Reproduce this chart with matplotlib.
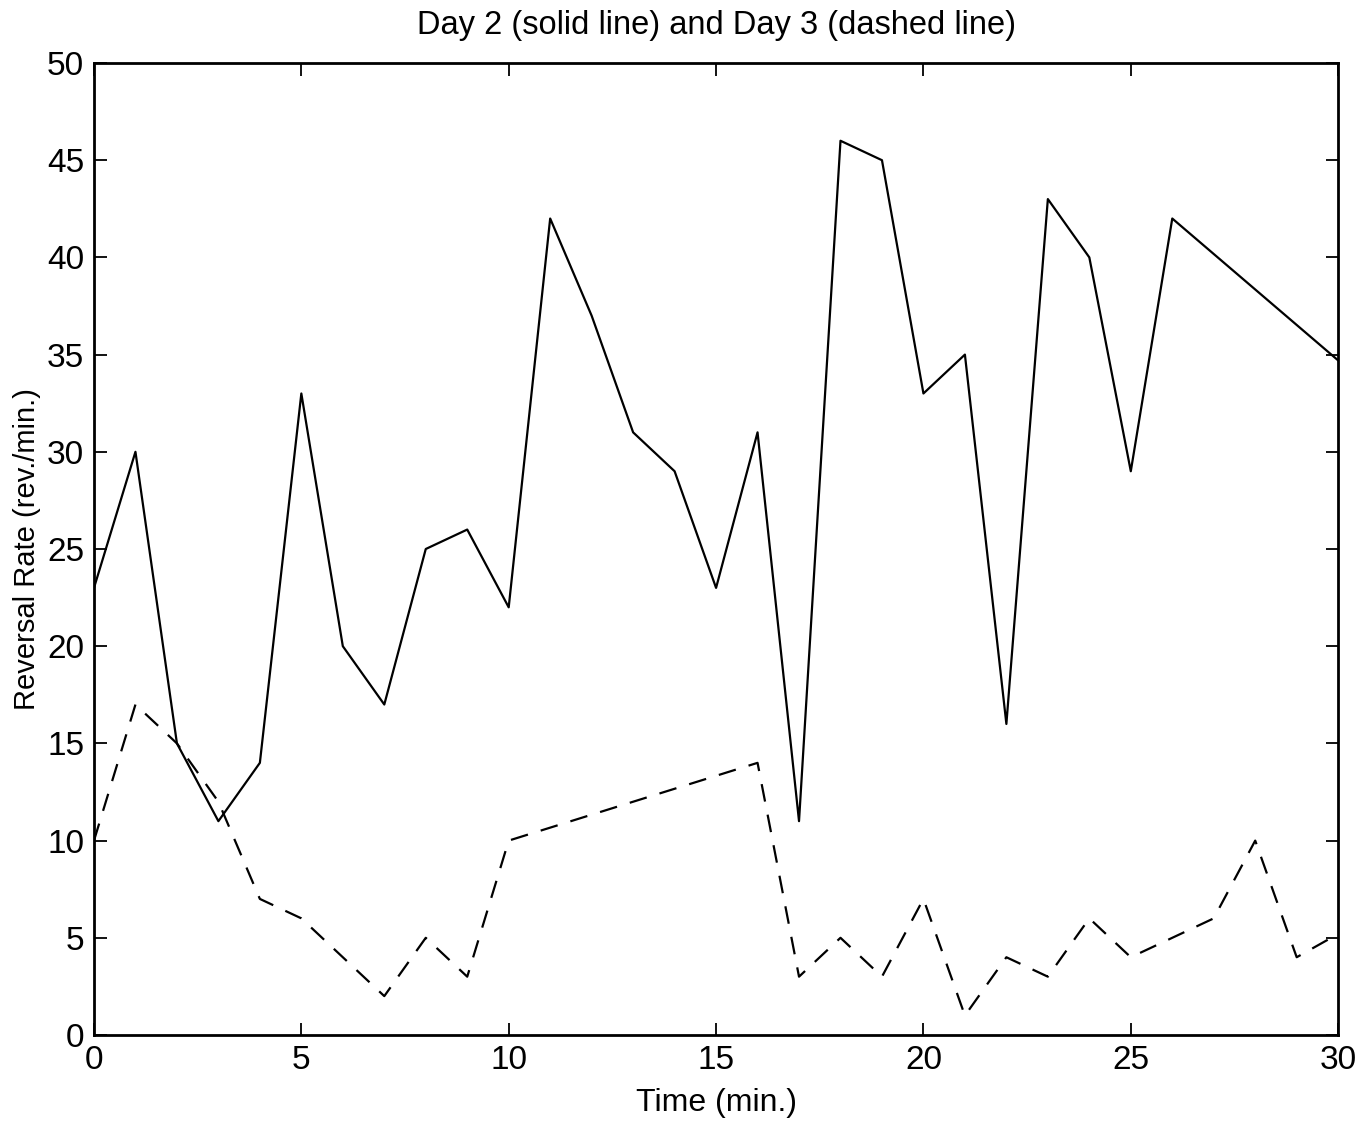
import matplotlib
matplotlib.use("Agg")
import matplotlib.pyplot as plt

# Day 2 (solid)
day2_t = [0, 1, 2, 3, 4, 5, 6, 7, 8, 9, 10, 11, 12, 13, 14, 15, 16, 17, 18, 19,
          20, 21, 22, 23, 24, 25, 26, 30]
day2_rate = [23, 30, 15, 11, 14, 33, 20, 17, 25, 26, 22, 42, 37, 31, 29, 23, 31, 11,
             46, 45, 33, 35, 16, 43, 40, 29, 42, 34.7]

# Day 3 (dashed)
day3_t = [0, 1, 2, 3, 4, 5, 6, 7, 8, 9, 10, 16, 17, 18, 19, 20, 21, 22, 23, 24,
          25, 26, 27, 28, 29, 30]
day3_rate = [10, 17, 15, 12, 7, 6, 4, 2, 5, 3, 10, 14, 3, 5, 3, 7, 1, 4, 3, 6,
             4, 5, 6, 10, 4, 5.2]

xticks = [0, 5, 10, 15, 20, 25, 30]
yticks = [0, 5, 10, 15, 20, 25, 30, 35, 40, 45, 50]

plt.rcParams['font.family'] = ['Liberation Sans', 'DejaVu Sans']

fig = plt.figure(figsize=(13.62, 11.25), dpi=100)
ax = fig.add_axes([0.0690, 0.080, 0.9135, 0.864])

ax.plot(day2_t, day2_rate, color='black', linewidth=1.6, linestyle='-')
ax.plot(day3_t, day3_rate, color='black', linewidth=1.6, linestyle=(0, (8, 6)))

ax.set_xlim(0, 30)
ax.set_ylim(0, 50)
ax.set_xticks(xticks)
ax.set_yticks(yticks)
ax.set_xticklabels([str(v) for v in xticks])
ax.set_yticklabels([str(v) for v in yticks])
ax.tick_params(direction='in', length=9, width=1.3, labelsize=24,
               top=True, right=True, pad=7)
for s in ax.spines.values():
    s.set_linewidth(2.0)

ax.set_xlabel('Time (min.)', fontsize=23, labelpad=9)
ax.set_ylabel('Reversal Rate (rev./min.)', fontsize=21, labelpad=4)
ax.set_title('Day 2 (solid line) and Day 3 (dashed line)', fontsize=23.5, pad=21)

fig.savefig('out.png', dpi=100)
